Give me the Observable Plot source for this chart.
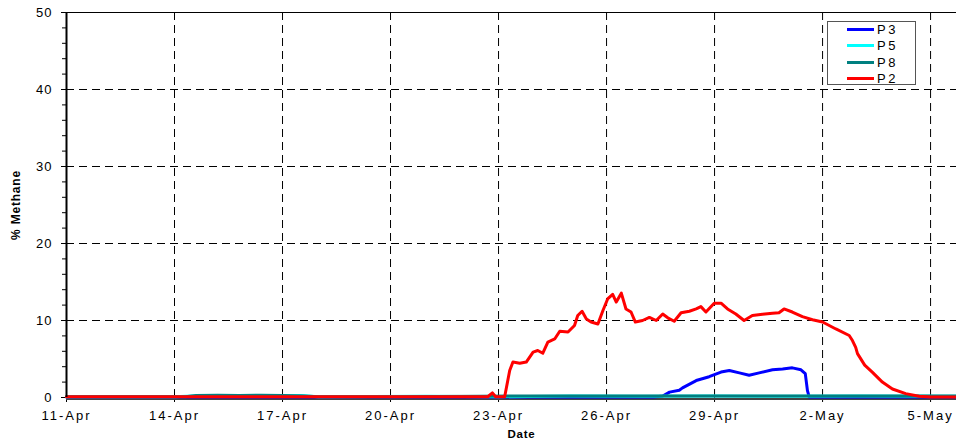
<!DOCTYPE html>
<html><head><meta charset="utf-8">
<script src="https://cdn.jsdelivr.net/npm/d3@7"></script>
<script src="https://cdn.jsdelivr.net/npm/@observablehq/plot@0.6"></script>
<style>
body{margin:0;background:#fff;font-family:"Liberation Sans",Arial,sans-serif;}
#wrap{position:relative;width:956px;height:444px;overflow:hidden;}
#legend{position:absolute;left:827px;top:21px;width:89px;height:64px;border:1px solid #555;background:#fff;box-sizing:border-box;}
.row{position:absolute;left:0;height:16px;width:89px;}
.sw{position:absolute;left:19px;top:6px;width:27px;height:3px;}
.lb{position:absolute;left:49px;top:0;font-size:13px;line-height:16px;letter-spacing:2.5px;color:#000;}
</style></head>
<body><div id="wrap"><div id="legend"></div></div>
<script>
// ---- data (day numbers counted in April; 32 = 2-May) ----
const seriesNames = ["P3", "P5", "P8", "P2"];
const seriesColors = ["#0000ff", "#00ffff", "#008080", "#ff0000"];

const p3Days = [11, 27.3, 27.56, 27.75, 28.02, 28.11, 28.49, 28.85, 29.18, 29.41, 29.69, 29.96, 30.24, 30.61, 30.89, 31.16, 31.40, 31.52, 31.58, 31.63, 35.72];
const p3Vals = [0.05, 0.05, 0.2, 0.7, 0.95, 1.25, 2.2, 2.7, 3.3, 3.5, 3.2, 2.9, 3.2, 3.6, 3.7, 3.85, 3.6, 3.1, 0.9, 0.05, 0.05];

const p5Days = [11, 14.0, 14.5, 15.5, 16.5, 17.5, 18.0, 21.0, 23.0, 25.0, 27.0, 29.0, 31.0, 33.0, 35.72];
const p5Vals = [0.1, 0.1, 0.2, 0.25, 0.2, 0.25, 0.1, 0.15, 0.1, 0.2, 0.15, 0.2, 0.15, 0.2, 0.15];

const p8Days = [11, 14.3, 14.6, 15.2, 15.8, 16.4, 17.0, 17.6, 18.0, 20.0, 22.5, 23.3, 25.0, 27.0, 29.0, 31.0, 33.0, 35.72];
const p8Vals = [0.1, 0.1, 0.25, 0.3, 0.25, 0.3, 0.25, 0.2, 0.1, 0.1, 0.15, 0.2, 0.2, 0.2, 0.2, 0.2, 0.2, 0.2];

const p2Days = [11, 22.7, 22.83, 22.92, 23.17, 23.31, 23.40, 23.59, 23.77, 23.96, 24.09, 24.23, 24.37, 24.56, 24.70, 24.93,
  25.11, 25.20, 25.32, 25.44, 25.57, 25.76, 25.90, 26.03, 26.17, 26.27, 26.41, 26.54, 26.68, 26.80, 27.0, 27.19, 27.38,
  27.56, 27.70, 27.88, 28.07, 28.30, 28.49, 28.62, 28.76, 28.99, 29.18, 29.36, 29.59, 29.82, 30.05, 30.33, 30.61, 30.79,
  30.93, 31.16, 31.44, 31.72, 32.0, 32.37, 32.74, 32.83, 32.92, 32.97, 33.17, 33.38, 33.66, 33.94, 34.31, 34.68, 35.0, 35.72];
const p2Vals = [0.1, 0.1, 0.6, 0.1, 0.1, 3.5, 4.6, 4.45, 4.6, 5.9, 6.1, 5.75, 7.2, 7.6, 8.6, 8.5,
  9.35, 10.65, 11.2, 10.2, 9.8, 9.55, 11.3, 12.8, 13.4, 12.4, 13.55, 11.5, 11.1, 9.8, 10.0, 10.4, 10.0,
  10.85, 10.35, 9.9, 11.0, 11.2, 11.5, 11.8, 11.1, 12.25, 12.25, 11.5, 10.85, 10.0, 10.65, 10.8, 10.95, 11.0,
  11.5, 11.1, 10.5, 10.1, 9.8, 8.9, 8.05, 7.4, 6.5, 5.7, 4.2, 3.3, 2.0, 1.1, 0.5, 0.15, 0.05, 0.05];

const xTickDays = [11, 14, 17, 20, 23, 26, 29, 32, 35];
const yMajor = [0, 10, 20, 30, 40, 50];
const yMinor = [2, 4, 6, 8, 12, 14, 16, 18, 22, 24, 26, 28, 32, 34, 36, 38, 42, 44, 46, 48];
const yGrid = [10, 20, 30, 40];
const xDomainDays = [11, 35.72];

// ---- build ----
const base = Date.UTC(2005, 3, 1);
const toDate = d => new Date(base + (d - 1) * 864e5);
const rows = (days, vals) => days.map((d, i) => ({date: toDate(d), value: vals[i]}));
const sets = [rows(p3Days, p3Vals), rows(p5Days, p5Vals), rows(p8Days, p8Vals), rows(p2Days, p2Vals)];
const xTicks = xTickDays.map(toDate);
const fmt = d3.utcFormat("%-d-%b");

const chart = Plot.plot({
  width: 956, height: 444,
  marginLeft: 66, marginRight: 0, marginTop: 12, marginBottom: 47,
  style: {fontFamily: "'Liberation Sans', Arial, sans-serif", fontSize: "13px", color: "#000", background: "#fff", overflow: "visible"},
  x: {type: "utc", domain: xDomainDays.map(toDate)},
  y: {domain: [0, 50]},
  marks: [
    Plot.ruleY(yGrid, {stroke: "#000", strokeWidth: 1, strokeDasharray: "8,5"}),
    Plot.ruleX(xTicks.slice(1), {stroke: "#000", strokeWidth: 1, strokeDasharray: "8,5"}),
    Plot.ruleY([50], {stroke: "#000", strokeWidth: 1}),
    Plot.axisY({ticks: yMinor, tickSize: 4, tickFormat: () => "", label: null, strokeWidth: 1}),
    Plot.axisY({ticks: yMajor, tickSize: 5, tickPadding: 9, label: null, tickFormat: d => String(d)}),
    Plot.axisX({ticks: xTicks, tickSize: 5, tickPadding: 8, label: null, tickFormat: fmt}),
    Plot.ruleY([0], {stroke: "#444", strokeWidth: 2, dy: 1.5}),
    ...sets.map((s, i) => Plot.line(s, {x: "date", y: "value", stroke: seriesColors[i], strokeWidth: 3, curve: "linear"})),
    Plot.ruleX([toDate(11)], {stroke: "#000", strokeWidth: 2}),
    Plot.text(["Date"], {frameAnchor: "bottom", textAnchor: "middle", dx: 10, dy: 40, fontWeight: "bold", fontSize: 11.5}),
    Plot.text(["% Methane"], {frameAnchor: "left", textAnchor: "middle", dx: -50, rotate: -90, fontWeight: "bold", fontSize: 12})
  ]
});
document.getElementById("wrap").prepend(chart);

// letter spacing like the original's widely spaced labels
const svg = d3.select(chart);
svg.selectAll("text").each(function () {
  const t = this.textContent;
  let ls = "2px";
  if (/^\d+$/.test(t)) ls = "1px";
  if (t === "Date" || t === "% Methane") ls = "0.8px";
  this.style.letterSpacing = ls;
});

// legend
const lg = document.getElementById("legend");
seriesNames.forEach((n, i) => {
  const r = document.createElement("div");
  r.className = "row";
  r.style.top = (i * 16.3) + "px";
  r.innerHTML = `<div class="sw" style="background:${seriesColors[i]}"></div><div class="lb">${n}</div>`;
  lg.appendChild(r);
});
</script>
</body></html>
